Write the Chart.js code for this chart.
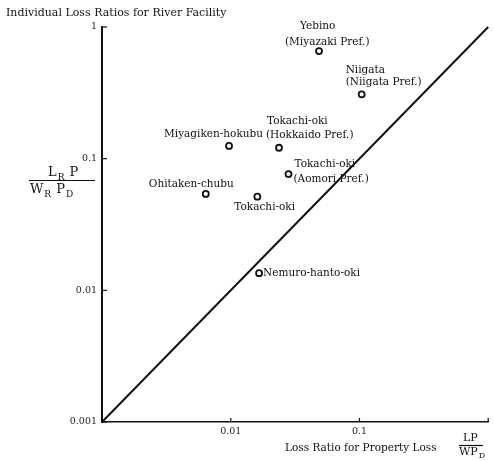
<!DOCTYPE html>
<html>
<head>
<meta charset="utf-8">
<script src="https://cdn.jsdelivr.net/npm/chart.js@4/dist/chart.umd.min.js"></script>
<style>
  html, body { margin: 0; padding: 0; background: #fff; }
  canvas { display: block; }
</style>
</head>
<body>
<canvas id="c" width="494" height="461"></canvas>
<script>
// Earthquake events and their loss ratios
const eventLabels = [
  ['Yebino', '(Miyazaki Pref.)'],
  ['Niigata', '(Niigata Pref.)'],
  ['Miyagiken-hokubu'],
  ['Tokachi-oki', '(Hokkaido Pref.)'],
  ['Tokachi-oki', '(Aomori Pref.)'],
  ['Ohitaken-chubu'],
  ['Tokachi-oki'],
  ['Nemuro-hanto-oki']
];
const propertyLossRatio = [0.0485, 0.104, 0.0097, 0.0237, 0.0281, 0.0064, 0.0161, 0.0166];
const riverLossRatio    = [0.656, 0.308, 0.125, 0.121, 0.0764, 0.054, 0.0514, 0.0135];

// Axis ticks (logarithmic, three decades)
const axisTicks   = [0.001, 0.01, 0.1, 1];
const xTickLabels = ['', '0.01', '0.1', ''];
const yTickLabels = ['0.001', '0.01', '0.1', '1'];

// Reference line: equal ratios
const equalityLine = [0.001, 1];

// Label placement around each marker: [dx, dy] per text line (left edge, middle)
const labelOffsets = [
  [[-19, -25], [-34, -9]],
  [[-16, -24], [-16, -12]],
  [[-65, -12]],
  [[-12, -27], [-13, -13]],
  [[6, -10], [5, 5]],
  [[-57, -10]],
  [[-23, 11]],
  [[4, 0]]
];

const SERIF = '"DejaVu Serif", "Liberation Serif", serif';
const INK = '#111';

const annotations = {
  id: 'annotations',
  afterDraw(chart) {
    const ctx = chart.ctx;
    const xs = chart.scales.x, ys = chart.scales.y;
    const area = chart.chartArea;
    ctx.save();
    ctx.fillStyle = INK;
    ctx.strokeStyle = INK;

    // inward tick marks
    ctx.lineWidth = 1.2;
    axisTicks.forEach(v => {
      const py = ys.getPixelForValue(v);
      ctx.beginPath(); ctx.moveTo(area.left, py); ctx.lineTo(area.left + 5, py); ctx.stroke();
      if (v > 0.001) {
        const px = xs.getPixelForValue(v);
        ctx.beginPath(); ctx.moveTo(px, area.bottom); ctx.lineTo(px, area.bottom - 4); ctx.stroke();
      }
    });

    // chart title
    ctx.font = '11px ' + SERIF;
    ctx.textAlign = 'left';
    ctx.textBaseline = 'middle';
    ctx.fillText('Individual Loss Ratios for River Facility', 6, 13);

    // stacked text with subscripts
    const drawSub = (parts, x, y, size, drop) => {
      let cx = x;
      parts.forEach(([t, sub]) => {
        ctx.font = (sub ? Math.round(size * 0.7) + 'px ' : size + 'px ') + SERIF;
        ctx.fillText(t, cx, sub ? y + drop : y);
        cx += ctx.measureText(t).width + 1;
      });
      return cx;
    };
    ctx.textBaseline = 'alphabetic';

    // y axis title: L_R P / W_R P_D
    drawSub([['L', false], ['R', true], [' P', false]], 48, 176, 13, 4);
    ctx.lineWidth = 1.2;
    ctx.beginPath(); ctx.moveTo(29, 180.5); ctx.lineTo(95, 180.5); ctx.stroke();
    drawSub([['W', false], ['R', true], [' P', false], ['D', true]], 30, 193, 13, 4);

    // x axis title
    ctx.font = '10.5px ' + SERIF;
    ctx.textBaseline = 'middle';
    ctx.fillText('Loss Ratio for Property Loss', 285, 448);
    ctx.textBaseline = 'alphabetic';
    drawSub([['LP', false]], 463, 441, 11, 0);
    ctx.beginPath(); ctx.moveTo(459, 445.5); ctx.lineTo(483, 445.5); ctx.stroke();
    drawSub([['WP', false], ['D', true]], 459, 455, 11, 3);

    // event labels
    const meta = chart.getDatasetMeta(1);
    ctx.font = '10.5px ' + SERIF;
    ctx.textBaseline = 'middle';
    meta.data.forEach((pt, i) => {
      eventLabels[i].forEach((line, j) => {
        const [dx, dy] = labelOffsets[i][j];
        ctx.fillText(line, pt.x + dx, pt.y + dy);
      });
    });
    ctx.restore();
  }
};

new Chart(document.getElementById('c'), {
  data: {
    datasets: [
      {
        type: 'line',
        data: equalityLine.map(v => ({ x: v, y: v })),
        borderColor: INK,
        borderWidth: 2,
        pointRadius: 0,
        clip: false
      },
      {
        type: 'scatter',
        data: propertyLossRatio.map((v, i) => ({ x: v, y: riverLossRatio[i] })),
        pointStyle: 'circle',
        pointRadius: 3,
        borderWidth: 1.8,
        borderColor: INK,
        backgroundColor: '#fff',
        clip: false
      }
    ]
  },
  options: {
    responsive: false,
    animation: false,
    layout: { padding: { top: 27, right: 1, left: 0, bottom: 0 } },
    plugins: { legend: { display: false }, tooltip: { enabled: false } },
    scales: {
      x: {
        type: 'logarithmic',
        min: 0.001, max: 1,
        afterBuildTicks: s => { s.ticks = axisTicks.map(v => ({ value: v })); },
        afterFit: s => { s.height = 39; },
        grid: { display: false, drawTicks: false },
        border: { display: true, color: INK, width: 1.5 },
        ticks: {
          autoSkip: false, maxRotation: 0, padding: 4,
          color: '#222',
          font: { family: SERIF, size: 9.5 },
          callback: (v, i) => xTickLabels[i]
        }
      },
      y: {
        type: 'logarithmic',
        min: 0.001, max: 1,
        afterBuildTicks: s => { s.ticks = axisTicks.map(v => ({ value: v })); },
        afterFit: s => { s.width = 102; },
        grid: { display: false, drawTicks: false },
        border: { display: true, color: INK, width: 2 },
        ticks: {
          autoSkip: false, padding: 5,
          color: '#222',
          font: { family: SERIF, size: 9.5 },
          callback: (v, i) => yTickLabels[i]
        }
      }
    }
  },
  plugins: [annotations]
});
</script>
</body>
</html>
